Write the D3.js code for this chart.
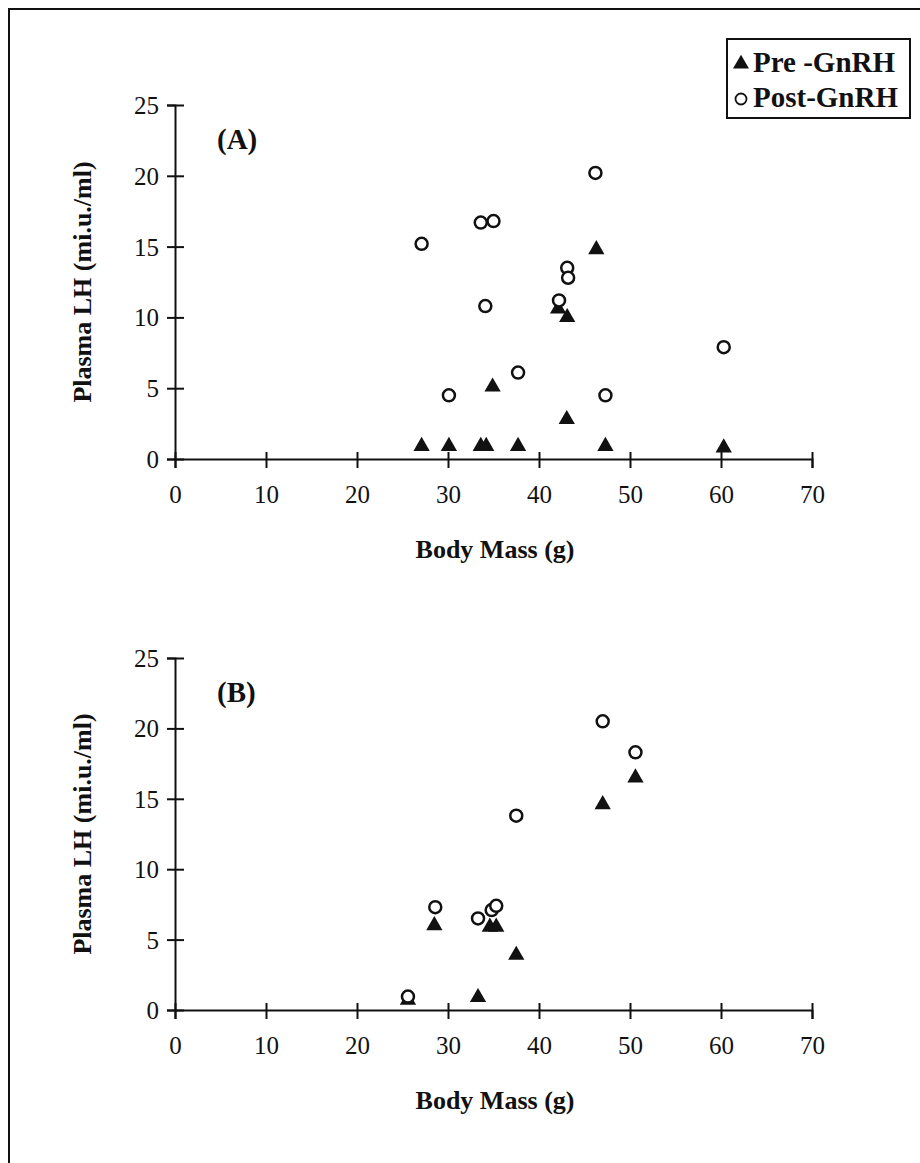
<!DOCTYPE html>
<html>
<head>
<meta charset="utf-8">
<script src="https://cdn.jsdelivr.net/npm/d3@7"></script>
<style>
  body { margin: 0; background: #fff; }
  svg text { font-family: "Liberation Serif", "Times New Roman", serif; fill: #111; }
</style>
</head>
<body>
<svg id="chart" width="920" height="1163"></svg>
<script>
// body mass (g) and plasma LH (mi.u./ml)
var preAx = [27.1, 30.1, 33.6, 34.2, 34.9, 37.7, 42.1, 43.1, 43.05, 46.3, 47.3, 60.3];
var preAy = [0.9, 0.9, 0.9, 0.9, 5.1, 0.9, 10.6, 10.0, 2.8, 14.8, 0.9, 0.8];
var postAx = [27.1, 30.1, 33.6, 35.0, 34.1, 37.7, 42.2, 43.1, 43.2, 46.2, 47.3, 60.3];
var postAy = [15.2, 4.5, 16.7, 16.8, 10.8, 6.1, 11.2, 13.5, 12.8, 20.2, 4.5, 7.9];

var preBx = [25.6, 28.5, 33.3, 34.6, 35.3, 37.5, 47.0, 50.6];
var preBy = [0.7, 6.0, 0.9, 5.9, 5.9, 3.9, 14.6, 16.5];
var postBx = [25.6, 28.6, 33.3, 34.8, 35.3, 37.5, 47.0, 50.6];
var postBy = [0.95, 7.3, 6.5, 7.1, 7.4, 13.8, 20.5, 18.3];

var xTicks = [0, 10, 20, 30, 40, 50, 60, 70];
var yTicks = [0, 5, 10, 15, 20, 25];
var seriesNames = ["Pre -GnRH", "Post-GnRH"];

var svg = d3.select("#chart");

// outer frame (only left and top edges show)
svg.append("path")
  .attr("d", "M9,1163 L9,9 L920,9")
  .attr("fill", "none")
  .attr("stroke", "#111")
  .attr("stroke-width", 2);

var x = d3.scaleLinear().domain([0, 70]).range([175, 812]);

function zip(xs, ys) {
  return xs.map(function (v, i) { return { x: v, y: ys[i] }; });
}

function drawPanel(y, letter, pre, post) {
  var g = svg.append("g");
  var y0 = y(0);

  // y axis
  var ya = g.append("g")
    .attr("transform", "translate(175,0)")
    .call(d3.axisLeft(y).tickValues(yTicks).tickSizeOuter(0).tickSize(8).tickPadding(8));
  ya.selectAll(".tick line").attr("x1", -8).attr("x2", 9);
  // x axis
  var xa = g.append("g")
    .attr("transform", "translate(0," + y0 + ")")
    .call(d3.axisBottom(x).tickValues(xTicks).tickSizeOuter(0).tickSize(9).tickPadding(17));
  xa.selectAll(".tick line").attr("y1", -7).attr("y2", 9);

  g.selectAll(".domain, .tick line").attr("stroke", "#111").attr("stroke-width", 2);
  g.selectAll(".tick text")
    .attr("font-family", "Liberation Serif, Times New Roman, serif")
    .attr("font-size", 25)
    .attr("fill", "#111");
  ya.selectAll(".tick text").attr("dy", "0.34em");

  // axis titles
  g.append("text")
    .attr("x", 495).attr("y", y0 + 99)
    .attr("text-anchor", "middle")
    .attr("font-size", 26).attr("font-weight", "bold")
    .text("Body Mass (g)");
  g.append("text")
    .attr("transform", "translate(91," + (y(0) + y(25)) / 2 + ") rotate(-90)")
    .attr("text-anchor", "middle")
    .attr("font-size", 26).attr("font-weight", "bold")
    .text("Plasma LH (mi.u./ml)");

  // panel letter
  g.append("text")
    .attr("x", 217).attr("y", y(25) + 44)
    .attr("font-size", 29).attr("font-weight", "bold")
    .text(letter);

  // pre-GnRH filled triangles
  var tri = d3.symbol().type(d3.symbolTriangle).size(115);
  g.selectAll(".pre").data(pre).enter().append("path")
    .attr("d", tri)
    .attr("transform", function (d) { return "translate(" + x(d.x) + "," + y(d.y) + ")"; })
    .attr("fill", "#111");

  // post-GnRH open circles, drawn over the triangles
  g.selectAll(".post").data(post).enter().append("circle")
    .attr("cx", function (d) { return x(d.x); })
    .attr("cy", function (d) { return y(d.y); })
    .attr("r", 6)
    .attr("fill", "#fff")
    .attr("stroke", "#111")
    .attr("stroke-width", 2.5);
}

var yA = d3.scaleLinear().domain([0, 25]).range([459, 105]);
var yB = d3.scaleLinear().domain([0, 25]).range([1010, 658]);

drawPanel(yA, "(A)", zip(preAx, preAy), zip(postAx, postAy));
drawPanel(yB, "(B)", zip(preBx, preBy), zip(postBx, postBy));

// legend
var lg = svg.append("g");
lg.append("rect")
  .attr("x", 727).attr("y", 39).attr("width", 183).attr("height", 79)
  .attr("fill", "#fff").attr("stroke", "#111").attr("stroke-width", 2);
lg.append("path")
  .attr("d", d3.symbol().type(d3.symbolTriangle).size(110))
  .attr("transform", "translate(741,64)")
  .attr("fill", "#111");
lg.append("circle")
  .attr("cx", 741).attr("cy", 99).attr("r", 5.5)
  .attr("fill", "#fff").attr("stroke", "#111").attr("stroke-width", 1.8);
lg.selectAll(".lt").data(seriesNames).enter().append("text")
  .attr("x", 753)
  .attr("y", function (d, i) { return 72 + i * 35; })
  .attr("font-size", 29).attr("font-weight", "bold")
  .text(function (d) { return d; });
</script>
</body>
</html>
